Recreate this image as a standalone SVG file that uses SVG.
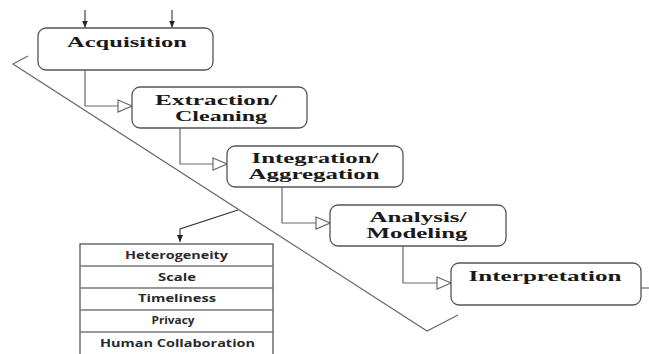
<svg xmlns="http://www.w3.org/2000/svg" width="649" height="354" viewBox="0 0 649 354">
<style>
.box{fill:#fff;stroke:#555;stroke-width:1.3}
.lbl{font-family:"Liberation Serif","Times New Roman",serif;font-weight:bold;font-size:15px;fill:#1a1a1a;text-anchor:middle}
.conn{fill:none;stroke:#6a6a6a;stroke-width:1.2}
.dark{fill:none;stroke:#333;stroke-width:1.1}
.tbl{fill:#fff;stroke:#555;stroke-width:1.3}
.row{stroke:#777;stroke-width:1.3}
.tt{font-family:"Open Sans","Liberation Sans",sans-serif;font-weight:bold;font-size:10.5px;fill:#2a2a2a;text-anchor:middle}
</style>
<defs>
<marker id="open" markerUnits="userSpaceOnUse" markerWidth="16" markerHeight="14" refX="15" refY="7" orient="auto">
<path d="M1,1 L15,7 L1,13 Z" fill="#fff" stroke="#6a6a6a" stroke-width="1.2"/>
</marker>
<marker id="solid" markerUnits="userSpaceOnUse" markerWidth="8" markerHeight="8" refX="7" refY="4" orient="auto">
<path d="M0,1 L7,4 L0,7 Z" fill="#222"/>
</marker>
</defs>
<rect width="649" height="354" fill="#fff"/>
<g id="connectors">
<path class="dark" d="M85,10 V27.5" marker-end="url(#solid)"/>
<path class="dark" d="M172,10 V27.5" marker-end="url(#solid)"/>
<path class="conn" d="M85,70 V106 H132" marker-end="url(#open)"/>
<path class="conn" d="M180,128 V164 H227" marker-end="url(#open)"/>
<path class="conn" d="M282,187 V223 H330" marker-end="url(#open)"/>
<path class="conn" d="M403,246 V283 H451" marker-end="url(#open)"/>
<path class="conn" d="M641,288 H649"/>
<path class="conn" stroke="#444" d="M28,56 L13,64 L427,331 L458,315"/>
<path class="dark" stroke="#555" d="M238,210 L180,229 V242" marker-end="url(#solid)"/>
</g>
<g id="acquisition">
<rect class="box" x="38" y="28" width="175" height="42" rx="8"/>
<text class="lbl" x="127" y="47" textLength="120" lengthAdjust="spacingAndGlyphs">Acquisition</text>
</g>
<g id="extraction">
<rect class="box" x="132" y="87" width="175" height="41" rx="8"/>
<text class="lbl" x="216" y="105" textLength="122" lengthAdjust="spacingAndGlyphs">Extraction/</text>
<text class="lbl" x="221" y="121" textLength="92" lengthAdjust="spacingAndGlyphs">Cleaning</text>
</g>
<g id="integration">
<rect class="box" x="227" y="146" width="176" height="41" rx="8"/>
<text class="lbl" x="315" y="163" textLength="127" lengthAdjust="spacingAndGlyphs">Integration/</text>
<text class="lbl" x="314" y="179" textLength="131" lengthAdjust="spacingAndGlyphs">Aggregation</text>
</g>
<g id="analysis">
<rect class="box" x="330" y="205" width="176" height="41" rx="8"/>
<text class="lbl" x="418" y="222" textLength="97" lengthAdjust="spacingAndGlyphs">Analysis/</text>
<text class="lbl" x="417" y="238" textLength="101" lengthAdjust="spacingAndGlyphs">Modeling</text>
</g>
<g id="interpretation">
<rect class="box" x="451" y="263" width="190" height="42" rx="8"/>
<text class="lbl" x="545" y="281" textLength="153" lengthAdjust="spacingAndGlyphs">Interpretation</text>
</g>
<g id="challenges">
<rect class="tbl" x="80" y="244" width="193" height="114"/>
<line class="row" x1="80" y1="266" x2="273" y2="266"/>
<line class="row" x1="80" y1="288" x2="273" y2="288"/>
<line class="row" x1="80" y1="310" x2="273" y2="310"/>
<line class="row" x1="80" y1="332" x2="273" y2="332"/>
<text class="tt" x="176.5" y="259" textLength="103" lengthAdjust="spacingAndGlyphs">Heterogeneity</text>
<text class="tt" x="177" y="281" textLength="38" lengthAdjust="spacingAndGlyphs">Scale</text>
<text class="tt" x="177" y="302" textLength="78" lengthAdjust="spacingAndGlyphs">Timeliness</text>
<text class="tt" x="173" y="324" textLength="43" lengthAdjust="spacingAndGlyphs">Privacy</text>
<text class="tt" x="177.5" y="347" textLength="155" lengthAdjust="spacingAndGlyphs">Human Collaboration</text>
</g>
</svg>
